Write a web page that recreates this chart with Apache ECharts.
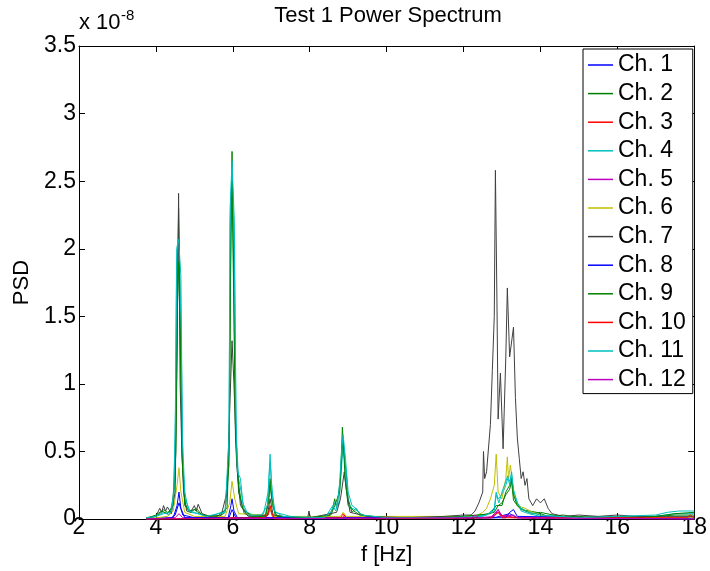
<!DOCTYPE html>
<html>
<head>
<meta charset="utf-8">
<script src="https://cdn.jsdelivr.net/npm/echarts@6/dist/echarts.min.js"></script>
<style>
  html, body { margin: 0; padding: 0; background: #fff; }
  #main { width: 710px; height: 571px; }
</style>
</head>
<body>
<div id="main"></div>
<script>
var xTicks = [2, 4, 6, 8, 10, 12, 14, 16, 18];
var yTicks = [0, 0.5, 1, 1.5, 2, 2.5, 3, 3.5]; // x 10^-8

var names = ['Ch. 1','Ch. 2','Ch. 3','Ch. 4','Ch. 5','Ch. 6','Ch. 7','Ch. 8','Ch. 9','Ch. 10','Ch. 11','Ch. 12'];
var colors = ['#0000FF','#008000','#FF0000','#00BFBF','#BF00BF','#BFBF00','#404040','#0000FF','#008000','#FF0000','#00BFBF','#BF00BF'];

// [f (Hz), PSD (x 1e-8)]
var ch1 = [[3.75,0],[4.4,0.01],[4.5,0.03],[4.6,0.12],[4.7,0.03],[5.0,0.01],[5.9,0.01],[5.98,0.07],[6.08,0.01],[8,0],[12.8,0.01],[13.2,0.04],[13.4,0.01],[15,0],[18,0.01]];
var ch2 = [[3.75,0.005],[4.0,0.02],[4.1,0.04],[4.2,0.07],[4.3,0.05],[4.4,0.06],[4.5,0.3],[4.55,1.5],[4.59,2.3],[4.63,1.6],[4.68,0.5],[4.75,0.12],[4.85,0.06],[5.0,0.07],[5.1,0.05],[5.3,0.02],[5.6,0.01],[5.8,0.05],[5.9,0.4],[5.94,1.8],[5.98,2.72],[6.02,1.9],[6.07,0.7],[6.15,0.2],[6.3,0.04],[6.6,0.01],[6.85,0.03],[6.93,0.15],[6.97,0.3],[7.02,0.15],[7.1,0.03],[7.5,0.01],[8.0,0.01],[8.5,0.02],[8.6,0.08],[8.65,0.15],[8.7,0.08],[8.8,0.3],[8.85,0.68],[8.9,0.45],[8.95,0.35],[9.0,0.15],[9.1,0.05],[9.2,0.08],[9.3,0.04],[9.6,0.01],[10.5,0.01],[11.5,0.01],[12.0,0.02],[12.5,0.03],[12.8,0.05],[12.9,0.1],[13.0,0.12],[13.1,0.18],[13.2,0.22],[13.25,0.28],[13.3,0.14],[13.4,0.1],[13.5,0.07],[13.7,0.06],[13.9,0.05],[14.2,0.02],[14.6,0.03],[15.0,0.01],[15.5,0.02],[16.0,0.01],[16.5,0.02],[17.0,0.02],[17.5,0.03],[18.0,0.03]];
var ch3 = [[3.75,0],[6.8,0.01],[6.92,0.03],[6.97,0.08],[7.03,0.02],[7.2,0],[8.8,0.01],[8.87,0.04],[8.95,0.01],[12.7,0.01],[12.9,0.05],[13.05,0.02],[13.5,0.01],[18,0]];
var ch4 = [[3.75,0.01],[4.0,0.02],[4.2,0.05],[4.35,0.03],[4.45,0.15],[4.5,0.6],[4.54,1.9],[4.59,2.0],[4.65,1.5],[4.7,0.4],[4.76,0.15],[4.9,0.05],[5.1,0.04],[5.4,0.02],[5.8,0.06],[5.9,0.5],[5.93,2.2],[5.98,2.6],[6.04,2.0],[6.09,0.6],[6.15,0.3],[6.22,0.2],[6.3,0.06],[6.6,0.02],[6.8,0.04],[6.92,0.2],[6.97,0.48],[7.02,0.2],[7.1,0.05],[7.5,0.02],[8.3,0.01],[8.55,0.05],[8.65,0.12],[8.75,0.1],[8.82,0.35],[8.87,0.55],[8.92,0.4],[9.0,0.12],[9.1,0.08],[9.25,0.06],[9.4,0.02],[10.5,0.01],[12.0,0.01],[12.6,0.03],[12.8,0.08],[12.85,0.2],[12.9,0.15],[13.0,0.18],[13.1,0.25],[13.15,0.3],[13.2,0.28],[13.25,0.33],[13.3,0.2],[13.4,0.12],[13.5,0.06],[13.7,0.04],[14.0,0.02],[15,0.01],[16,0.02],[17,0.02],[17.5,0.04],[18,0.04]];
var ch5 = [[3.75,0],[4.5,0.01],[4.6,0.04],[4.7,0.01],[12.7,0.01],[12.9,0.07],[13.0,0.02],[13.1,0.03],[13.3,0.01],[18,0]];
var ch6 = [[3.75,0],[4.3,0.02],[4.45,0.06],[4.55,0.25],[4.6,0.38],[4.65,0.2],[4.75,0.05],[5.0,0.02],[5.8,0.02],[5.92,0.12],[5.98,0.28],[6.05,0.15],[6.15,0.04],[6.9,0.03],[6.97,0.08],[7.05,0.02],[8.8,0.02],[8.87,0.05],[8.95,0.02],[12.3,0.02],[12.5,0.05],[12.6,0.08],[12.7,0.15],[12.8,0.25],[12.85,0.48],[12.9,0.2],[13.0,0.15],[13.1,0.3],[13.14,0.46],[13.17,0.3],[13.22,0.4],[13.3,0.2],[13.4,0.1],[13.6,0.08],[13.8,0.05],[14.0,0.03],[14.4,0.01],[18,0.01]];
var ch7 = [[3.75,0.01],[4.0,0.02],[4.1,0.08],[4.15,0.05],[4.2,0.1],[4.25,0.06],[4.3,0.09],[4.4,0.04],[4.5,0.2],[4.55,1.2],[4.59,2.41],[4.63,1.0],[4.67,0.55],[4.72,0.2],[4.8,0.06],[4.9,0.05],[5.0,0.1],[5.05,0.06],[5.1,0.11],[5.2,0.04],[5.4,0.02],[5.7,0.03],[5.85,0.2],[5.93,0.9],[5.98,1.32],[6.03,1.0],[6.1,0.4],[6.2,0.1],[6.4,0.02],[6.9,0.03],[6.97,0.15],[7.05,0.03],[7.5,0.01],[7.95,0.01],[7.98,0.06],[8.02,0.01],[8.7,0.05],[8.8,0.15],[8.9,0.35],[8.95,0.22],[9.05,0.05],[9.5,0.02],[10.5,0.01],[11.5,0.02],[12.0,0.03],[12.2,0.03],[12.3,0.06],[12.4,0.12],[12.5,0.2],[12.52,0.5],[12.55,0.3],[12.6,0.35],[12.7,0.7],[12.75,1.1],[12.8,1.5],[12.83,2.58],[12.87,1.6],[12.9,0.74],[12.96,1.08],[13.03,0.52],[13.1,1.2],[13.14,1.71],[13.2,1.2],[13.3,1.42],[13.35,0.9],[13.4,0.6],[13.45,0.45],[13.5,0.3],[13.55,0.35],[13.6,0.25],[13.65,0.3],[13.7,0.15],[13.8,0.1],[13.9,0.15],[14.0,0.12],[14.1,0.15],[14.2,0.08],[14.3,0.04],[14.6,0.02],[15.0,0.03],[15.5,0.02],[16.0,0.03],[16.5,0.02],[17.0,0.02],[17.5,0.02],[18.0,0.02]];
var ch8 = [[3.75,0],[4.45,0.01],[4.55,0.1],[4.6,0.2],[4.65,0.08],[4.75,0.01],[5.88,0.01],[5.95,0.1],[5.98,0.15],[6.03,0.06],[6.12,0.01],[13.1,0.01],[13.2,0.05],[13.3,0.07],[13.4,0.02],[18,0]];
var ch9 = [[3.75,0.005],[4.0,0.03],[4.15,0.06],[4.3,0.04],[4.45,0.1],[4.52,0.5],[4.56,1.6],[4.59,1.9],[4.63,1.4],[4.68,0.45],[4.75,0.1],[4.9,0.05],[5.05,0.08],[5.2,0.03],[5.6,0.02],[5.85,0.08],[5.91,0.6],[5.95,2.1],[5.98,2.5],[6.02,1.7],[6.07,0.6],[6.15,0.25],[6.25,0.08],[6.5,0.02],[6.85,0.02],[6.93,0.12],[6.97,0.25],[7.03,0.1],[7.15,0.02],[8.0,0.01],[8.55,0.03],[8.65,0.1],[8.78,0.2],[8.84,0.5],[8.87,0.6],[8.92,0.3],[9.0,0.1],[9.15,0.06],[9.3,0.03],[10.0,0.01],[11.0,0.01],[12.0,0.02],[12.7,0.04],[12.85,0.1],[13.0,0.1],[13.1,0.2],[13.2,0.25],[13.25,0.3],[13.3,0.18],[13.4,0.1],[13.6,0.06],[13.8,0.04],[14.0,0.05],[14.5,0.02],[15.0,0.02],[15.5,0.01],[16.0,0.02],[16.5,0.01],[17.0,0.02],[17.5,0.04],[18.0,0.05]];
var ch10 = [[3.75,0],[6.85,0.01],[6.93,0.05],[6.97,0.1],[7.02,0.04],[7.1,0],[8.85,0.01],[8.9,0.03],[8.95,0],[12.75,0.01],[12.9,0.05],[13.0,0.01],[17.8,0.01],[17.9,0.03],[18,0.01]];
var ch11 = [[3.75,0.01],[4.0,0.02],[4.2,0.04],[4.4,0.05],[4.47,0.2],[4.51,0.8],[4.54,2.0],[4.59,2.07],[4.65,1.8],[4.69,0.6],[4.75,0.2],[4.85,0.06],[5.0,0.05],[5.3,0.02],[5.8,0.05],[5.9,0.6],[5.93,2.3],[5.98,2.65],[6.04,2.2],[6.08,0.8],[6.12,0.35],[6.2,0.3],[6.26,0.12],[6.4,0.03],[6.75,0.03],[6.9,0.1],[6.94,0.3],[6.97,0.42],[7.01,0.25],[7.08,0.06],[7.3,0.02],[8.4,0.01],[8.6,0.1],[8.68,0.06],[8.76,0.2],[8.83,0.5],[8.87,0.62],[8.93,0.45],[9.0,0.2],[9.1,0.1],[9.2,0.08],[9.35,0.03],[10.0,0.01],[11.5,0.01],[12.5,0.02],[12.8,0.06],[12.85,0.18],[12.92,0.12],[13.0,0.2],[13.1,0.28],[13.15,0.32],[13.2,0.25],[13.25,0.35],[13.3,0.22],[13.4,0.12],[13.5,0.08],[13.7,0.05],[14.0,0.03],[15.0,0.01],[16.0,0.02],[17.0,0.03],[17.3,0.05],[17.6,0.06],[18.0,0.06]];
var ch12 = [[3.75,0],[12.2,0.01],[12.3,0.03],[12.4,0.01],[12.8,0.02],[12.9,0.07],[13.0,0.02],[13.3,0.03],[13.4,0.01],[18,0]];

var seriesData = [ch1, ch2, ch3, ch4, ch5, ch6, ch7, ch8, ch9, ch10, ch11, ch12];

var font = 'Liberation Sans, Arial, Helvetica, sans-serif';

var series = seriesData.map(function (d, i) {
  return {
    name: names[i],
    type: 'line',
    data: d,
    showSymbol: false,
    symbol: 'none',
    lineStyle: { width: 1, color: colors[i] },
    itemStyle: { color: colors[i] },
    z: 2 + i
  };
});

var myChart = echarts.init(document.getElementById('main'));
var option = {
  animation: false,
  backgroundColor: '#fff',
  textStyle: { fontFamily: font },
  grid: { left: 79, right: 13, top: 46, bottom: 28, containLabel: false },
  legend: {
    data: names,
    orient: 'vertical',
    left: 583,
    top: 49,
    padding: [4, 7, 2, 5],
    itemGap: 4.6,
    itemWidth: 25,
    itemHeight: 1.5,
    icon: 'rect',
    borderColor: '#000',
    borderWidth: 1,
    backgroundColor: '#fff',
    selectedMode: false,
    textStyle: { fontSize: 23, color: '#000', fontFamily: font, lineHeight: 24 }
  },
  xAxis: [{
    type: 'value',
    min: xTicks[0],
    max: xTicks[xTicks.length - 1],
    interval: 2,
    name: 'f [Hz]',
    nameLocation: 'middle',
    nameGap: 18,
    nameTextStyle: { fontSize: 22, color: '#000' },
    axisLine: { show: true, onZero: false, lineStyle: { color: '#000', width: 1 } },
    axisTick: { inside: true, length: 6, lineStyle: { color: '#000' } },
    axisLabel: { fontSize: 23, color: '#000', margin: -3 },
    splitLine: { show: false }
  }, {
    type: 'value',
    position: 'top',
    min: xTicks[0],
    max: xTicks[xTicks.length - 1],
    interval: 2,
    axisLine: { show: true, onZero: false, lineStyle: { color: '#000', width: 1 } },
    axisTick: { inside: true, length: 6, lineStyle: { color: '#000' } },
    axisLabel: { show: false },
    splitLine: { show: false }
  }],
  yAxis: [{
    type: 'value',
    min: yTicks[0],
    max: yTicks[yTicks.length - 1],
    interval: 0.5,
    name: 'PSD',
    nameLocation: 'middle',
    nameGap: 35,
    nameTextStyle: { fontSize: 22, color: '#000' },
    axisLine: { show: true, onZero: false, lineStyle: { color: '#000', width: 1 } },
    axisTick: { inside: true, length: 6, lineStyle: { color: '#000' } },
    axisLabel: { fontSize: 23, color: '#000', margin: 3 },
    splitLine: { show: false }
  }, {
    type: 'value',
    position: 'right',
    min: yTicks[0],
    max: yTicks[yTicks.length - 1],
    interval: 0.5,
    axisLine: { show: true, onZero: false, lineStyle: { color: '#000', width: 1 } },
    axisTick: { inside: true, length: 6, lineStyle: { color: '#000' } },
    axisLabel: { show: false },
    splitLine: { show: false }
  }],
  graphic: [
    { type: 'text', x: 388, y: 5, style: { text: 'Test 1 Power Spectrum', font: '22px ' + font, fill: '#000', textAlign: 'center' } },
    { type: 'text', x: 79, y: 23, style: { text: 'x 10', font: '22px ' + font, fill: '#000', textVerticalAlign: 'middle' } },
    { type: 'text', x: 121, y: 16, style: { text: '-8', font: '15px ' + font, fill: '#000', textVerticalAlign: 'middle' } }
  ],
  series: series
};

myChart.setOption(option);
</script>
</body>
</html>
